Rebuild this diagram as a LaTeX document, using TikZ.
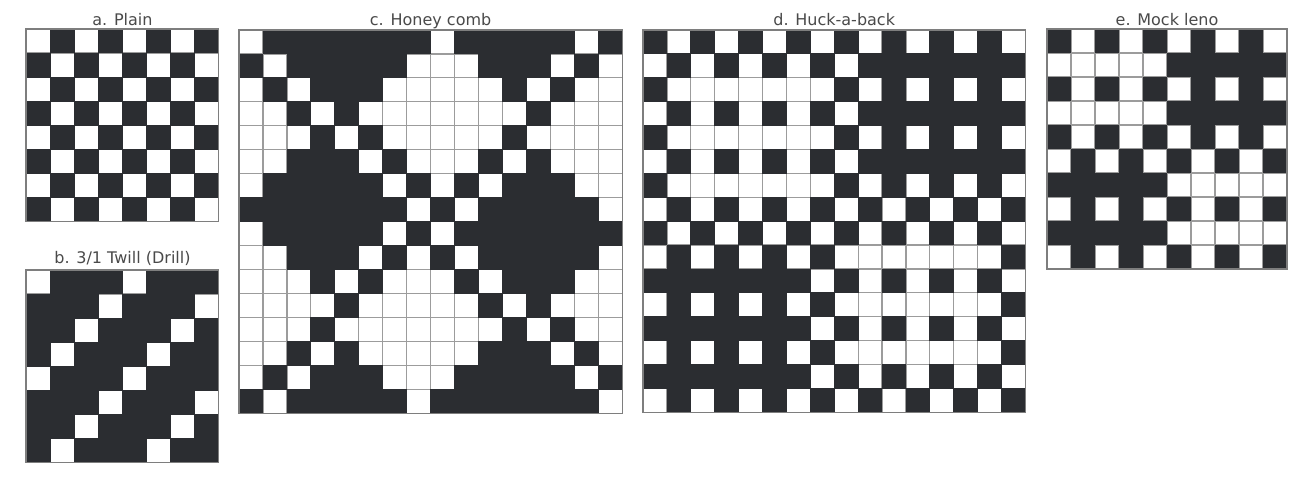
\documentclass[tikz,border=0pt]{standalone}
\usepackage{fontspec}
\setmainfont{DejaVu Sans}
\definecolor{ink}{HTML}{2B2D31}
\definecolor{gridgray}{HTML}{9C9C9C}
\definecolor{framegray}{HTML}{7E7E7E}
\definecolor{titlegray}{HTML}{4A4A4A}
\tikzset{
  cellline/.style={draw=gridgray, line width=1.2pt},
  darkcell/.style={fill=ink},
  panelframe/.style={draw=framegray, line width=1.3pt},
  paneltitle/.style={text=titlegray, font=\fontsize{16}{19}\selectfont, inner sep=0pt, anchor=base}
}
% #1 x0, #2 y0, #3 ncols, #4 nrows, #5 cell, #6 rows (1 = dark)
\newcommand\weavepanel[6]{%
  \begin{scope}[shift={(#1,#2)}]
    \fill[white] (0,0) rectangle (#3*#5,#4*#5);
    \foreach \k in {0,...,#3} {\draw[cellline] (\k*#5,0) -- (\k*#5,#4*#5);}
    \foreach \k in {0,...,#4} {\draw[cellline] (0,\k*#5) -- (#3*#5,\k*#5);}
    \foreach \row [count=\r from 0] in {#6} {
      \foreach \v [count=\c from 0] in \row {
        \ifnum\v=1 \fill[darkcell] (\c*#5-0.4,\r*#5-0.4) rectangle ++(#5+0.8,#5+0.8);\fi
      }
    }
    \draw[panelframe] (0,0) rectangle (#3*#5,#4*#5);
  \end{scope}}
\begin{document}
\begin{tikzpicture}[x=1pt,y=-1pt]
\fill[white] (0,0) rectangle (1304,478);
\path[use as bounding box] (0,0) rectangle (1304,478);

% a. Plain
\weavepanel{26}{29}{8}{8}{24.1}{
{0,1,0,1,0,1,0,1},{1,0,1,0,1,0,1,0},{0,1,0,1,0,1,0,1},{1,0,1,0,1,0,1,0},
{0,1,0,1,0,1,0,1},{1,0,1,0,1,0,1,0},{0,1,0,1,0,1,0,1},{1,0,1,0,1,0,1,0}}
\node[paneltitle] (ta) at (122.5,25.5) {a. Plain};

% b. 3/1 Twill
\weavepanel{26}{270}{8}{8}{24.1}{
{0,1,1,1,0,1,1,1},{1,1,1,0,1,1,1,0},{1,1,0,1,1,1,0,1},{1,0,1,1,1,0,1,1},
{0,1,1,1,0,1,1,1},{1,1,1,0,1,1,1,0},{1,1,0,1,1,1,0,1},{1,0,1,1,1,0,1,1}}
\node[paneltitle] (tb) at (122.5,264) {b. 3/1 Twill (Drill)};

% c. Honey comb
\weavepanel{239}{30}{16}{16}{23.95}{
{0,1,1,1,1,1,1,1,0,1,1,1,1,1,0,1},
{1,0,1,1,1,1,1,0,0,0,1,1,1,0,1,0},
{0,1,0,1,1,1,0,0,0,0,0,1,0,1,0,0},
{0,0,1,0,1,0,0,0,0,0,0,0,1,0,0,0},
{0,0,0,1,0,1,0,0,0,0,0,1,0,0,0,0},
{0,0,1,1,1,0,1,0,0,0,1,0,1,0,0,0},
{0,1,1,1,1,1,0,1,0,1,0,1,1,1,0,0},
{1,1,1,1,1,1,1,0,1,0,1,1,1,1,1,0},
{0,1,1,1,1,1,0,1,0,1,1,1,1,1,1,1},
{0,0,1,1,1,0,1,0,1,0,1,1,1,1,1,0},
{0,0,0,1,0,1,0,0,0,1,0,1,1,1,0,0},
{0,0,0,0,1,0,0,0,0,0,1,0,1,0,0,0},
{0,0,0,1,0,0,0,0,0,0,0,1,0,1,0,0},
{0,0,1,0,1,0,0,0,0,0,1,1,1,0,1,0},
{0,1,0,1,1,1,0,0,0,1,1,1,1,1,0,1},
{1,0,1,1,1,1,1,0,1,1,1,1,1,1,1,0}}
\node[paneltitle] (tc) at (430.6,26) {c. Honey comb};

% d. Huck-a-back
\weavepanel{643}{30}{16}{16}{23.9}{
{1,0,1,0,1,0,1,0,1,0,1,0,1,0,1,0},
{0,1,0,1,0,1,0,1,0,1,1,1,1,1,1,1},
{1,0,0,0,0,0,0,0,1,0,1,0,1,0,1,0},
{0,1,0,1,0,1,0,1,0,1,1,1,1,1,1,1},
{1,0,0,0,0,0,0,0,1,0,1,0,1,0,1,0},
{0,1,0,1,0,1,0,1,0,1,1,1,1,1,1,1},
{1,0,0,0,0,0,0,0,1,0,1,0,1,0,1,0},
{0,1,0,1,0,1,0,1,0,1,0,1,0,1,0,1},
{1,0,1,0,1,0,1,0,1,0,1,0,1,0,1,0},
{0,1,0,1,0,1,0,1,0,0,0,0,0,0,0,1},
{1,1,1,1,1,1,1,0,1,0,1,0,1,0,1,0},
{0,1,0,1,0,1,0,1,0,0,0,0,0,0,0,1},
{1,1,1,1,1,1,1,0,1,0,1,0,1,0,1,0},
{0,1,0,1,0,1,0,1,0,0,0,0,0,0,0,1},
{1,1,1,1,1,1,1,0,1,0,1,0,1,0,1,0},
{0,1,0,1,0,1,0,1,0,1,0,1,0,1,0,1}}
\node[paneltitle] (td) at (834.2,26) {d. Huck-a-back};

% e. Mock leno
\weavepanel{1047}{29}{10}{10}{24}{
{1,0,1,0,1,0,1,0,1,0},
{0,0,0,0,0,1,1,1,1,1},
{1,0,1,0,1,0,1,0,1,0},
{0,0,0,0,0,1,1,1,1,1},
{1,0,1,0,1,0,1,0,1,0},
{0,1,0,1,0,1,0,1,0,1},
{1,1,1,1,1,0,0,0,0,0},
{0,1,0,1,0,1,0,1,0,1},
{1,1,1,1,1,0,0,0,0,0},
{0,1,0,1,0,1,0,1,0,1}}
\node[paneltitle] (te) at (1167,25.5) {e. Mock leno};
\end{tikzpicture}
\end{document}
